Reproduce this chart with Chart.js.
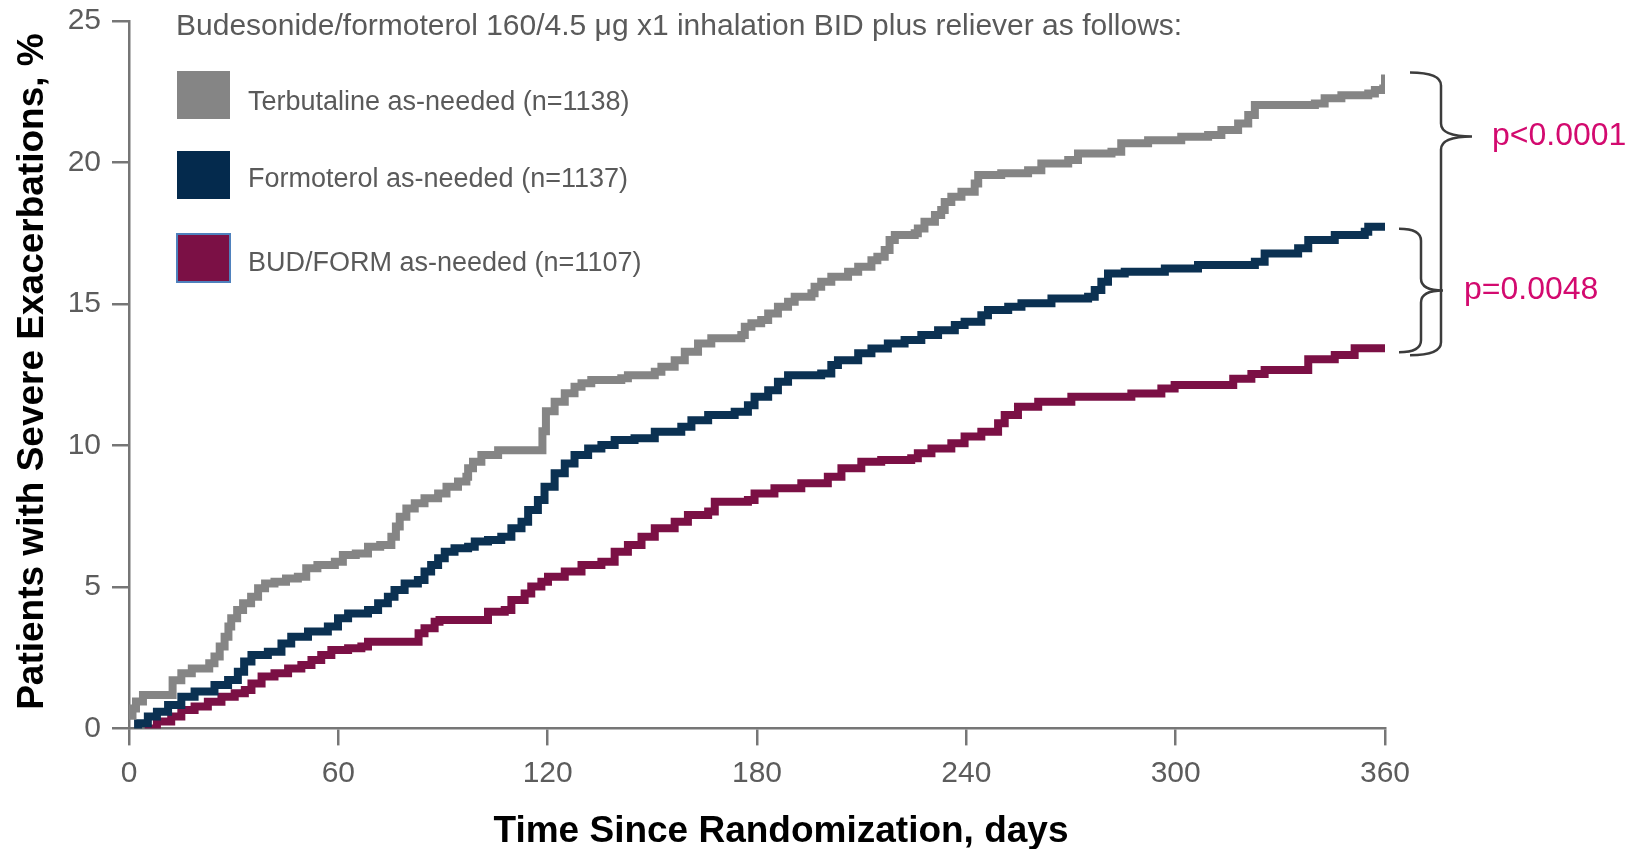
<!DOCTYPE html>
<html>
<head>
<meta charset="utf-8">
<script src="https://cdn.jsdelivr.net/npm/chart.js@4.4.1/dist/chart.umd.min.js"></script>
<style>
  html, body { margin: 0; padding: 0; background: #ffffff; }
  #wrap { position: relative; width: 1627px; height: 849px; }
</style>
</head>
<body>
<div id="wrap"><canvas id="km" width="1627" height="849"></canvas></div>
<script>
// Cumulative incidence of severe exacerbations (%), by day since randomization
const terbutalineDays = [0, 1, 2, 4, 12.5, 15, 18, 23, 24.5, 26, 27.4, 28.5, 29.3, 31, 32.7, 35, 37, 39, 41.7, 45,
  48.4, 50.8, 54, 59, 61.3, 65, 68.5, 72, 75.2, 76.5, 77.6, 79.5, 81.9, 84.7, 88.6, 91, 94.3, 96.7, 97.2, 98.6,
  101, 105.8, 118.5, 119.5, 122, 124.9, 127.7, 129.7, 132.5, 141.1, 143, 150.7, 152.6, 156.4, 159.3, 163.1, 166.9,
  175.5, 176.5, 178.4, 181.2, 183.2, 186, 188.9, 190.8, 195.6, 196.5, 198.4, 201.3, 206.1, 209, 212.8, 214.5,
  216.6, 218, 219.5, 225.2, 226.1, 228, 231, 232.8, 233.8, 235.7, 238.6, 242.4, 243.4, 250, 257.7, 261.5, 269.2,
  272, 281.6, 284.4, 292.1, 301.6, 309.3, 313.1, 317.9, 320.8, 322.7, 339.9, 342.7, 347.5, 355.2, 357.1, 359.5, 360];
const terbutalinePct = [0.45, 0.7, 0.95, 1.18, 1.7, 1.95, 2.12, 2.3, 2.54, 2.89, 3.24, 3.6, 3.89, 4.18, 4.42, 4.65, 4.95, 5.12, 5.18, 5.3,
  5.36, 5.66, 5.77, 5.89, 6.13, 6.18, 6.42, 6.48, 6.77, 7.13, 7.48, 7.77, 7.95, 8.13, 8.3, 8.54, 8.72, 8.89, 9.19, 9.42,
  9.66, 9.83, 10.5, 11.2, 11.54, 11.84, 12.07, 12.19, 12.31, 12.37, 12.48, 12.6, 12.78, 13.01, 13.31, 13.6, 13.78,
  13.9, 14.19, 14.31, 14.43, 14.66, 14.9, 15.07, 15.25, 15.37, 15.6, 15.78, 15.96, 16.13, 16.31, 16.54, 16.66,
  16.9, 17.25, 17.43, 17.49, 17.66, 17.9, 18.14, 18.31, 18.6, 18.78, 18.96, 19.25, 19.55, 19.61, 19.72, 19.96, 20.08,
  20.31, 20.37, 20.67, 20.78, 20.9, 20.96, 21.14, 21.37, 21.67, 22.02, 22.08, 22.26, 22.37, 22.43, 22.55, 22.61, 23.1];

const formoterolDays = [1.5, 2.6, 5.4, 8, 11.2, 15, 18.8, 24.5, 28.4, 31.2, 33, 35.1, 39.8, 43.7, 46.5, 51.3, 57, 59.9,
  62.8, 68.5, 71.4, 74.2, 76.1, 79, 82.8, 84.7, 86.6, 88.6, 90.5, 93.3, 97.2, 99.1, 102.9, 106.7, 109.6, 112.5, 114.4,
  117.2, 119.1, 122, 124.9, 127.7, 131.6, 135.4, 139.2, 144.9, 150.7, 158.3, 161.2, 166, 173.6, 177.4, 179.3, 183.2,
  186, 188.9, 198.4, 201.3, 203.2, 209, 212.8, 217.5, 222.3, 227.1, 231.9, 236.7, 239.5, 244.3, 246.2, 252, 255.8,
  264.4, 274.9, 276.8, 278.7, 280.6, 285.4, 296.9, 306.4, 322.7, 325.5, 335.1, 338, 345.6, 354.2, 355.2, 360];
const formoterolPct = [0, 0.18, 0.42, 0.59, 0.83, 1.12, 1.3, 1.53, 1.71, 2.0, 2.36, 2.59, 2.71, 3.0, 3.24, 3.42, 3.6, 3.89,
  4.06, 4.18, 4.42, 4.65, 4.89, 5.12, 5.24, 5.54, 5.77, 6.01, 6.24, 6.36, 6.42, 6.6, 6.66, 6.77, 7.07, 7.3, 7.72,
  8.07, 8.54, 9.01, 9.36, 9.66, 9.89, 10.01, 10.19, 10.25, 10.48, 10.66, 10.89, 11.07, 11.19, 11.42, 11.72, 11.95,
  12.25, 12.48, 12.54, 12.84, 13.01, 13.25, 13.42, 13.6, 13.72, 13.9, 14.07, 14.25, 14.37, 14.6, 14.78, 14.9, 15.02,
  15.19, 15.25, 15.49, 15.78, 16.07, 16.13, 16.25, 16.37, 16.49, 16.78, 16.96, 17.25, 17.43, 17.55, 17.72, 17.72];

const budFormDays = [4.5, 8, 12.1, 15, 18.8, 22.6, 26.5, 30.3, 33.2, 35.1, 38, 41.7, 45.6, 49.4, 52.3, 55.1, 58, 62.8,
  66.6, 68.5, 83, 84.7, 87.6, 89, 102.9, 107.7, 109.6, 113.4, 115.3, 118.2, 120.1, 124.9, 129.7, 135.4, 139.2, 143,
  146.9, 150.7, 156.4, 160.2, 166, 167.9, 177.4, 179.3, 185, 192.7, 200.3, 204.2, 209.9, 215.6, 224.2, 226.1, 230,
  235.7, 239.5, 244.3, 249.1, 251, 254.8, 260.6, 270.1, 287.3, 295.9, 299.7, 316.5, 321.7, 325.5, 338, 345.6, 351.3, 360];
const budFormPct = [0, 0.24, 0.42, 0.65, 0.77, 0.94, 1.12, 1.24, 1.36, 1.59, 1.83, 1.95, 2.12, 2.24, 2.42, 2.59, 2.77, 2.83,
  2.89, 3.06, 3.36, 3.54, 3.77, 3.83, 4.12, 4.18, 4.54, 4.77, 5.01, 5.18, 5.36, 5.54, 5.77, 5.89, 6.24, 6.48,
  6.77, 7.07, 7.3, 7.54, 7.66, 8.01, 8.07, 8.3, 8.48, 8.66, 8.89, 9.19, 9.42, 9.48, 9.54, 9.72, 9.89,
  10.07, 10.31, 10.48, 10.78, 11.07, 11.36, 11.54, 11.72, 11.83, 12.01, 12.13, 12.35, 12.52, 12.66, 13.04, 13.19, 13.43, 13.43];

const seriesLabels = ['Terbutaline as-needed (n=1138)', 'Formoterol as-needed (n=1137)', 'BUD/FORM as-needed (n=1107)'];
const legendHeader = 'Budesonide/formoterol 160/4.5 \u03BCg x1 inhalation BID plus reliever as follows:';
const xTitle = 'Time Since Randomization, days';
const yTitle = 'Patients with Severe Exacerbations, %';
const xTicks = [0, 60, 120, 180, 240, 300, 360];
const yTicks = [0, 5, 10, 15, 20, 25];
const pValues = ['p<0.0001', 'p=0.0048'];

const FONT = "'Liberation Sans', Arial, Helvetica, sans-serif";
const COLORS = { terb: '#858585', form: '#0b3152', bud: '#7b1045', axis: '#767676', tick: '#5c5c5c', pval: '#d30a6f', brace: '#3c3c3c' };

function toPoints(days, pct) { return days.map((d, i) => ({ x: d, y: pct[i] })); }

function line(label, days, pct, color) {
  return {
    label, data: toPoints(days, pct), borderColor: color, backgroundColor: color,
    borderWidth: 8, stepped: 'before', pointRadius: 0, pointHoverRadius: 0, fill: false,
    borderJoinStyle: 'miter', borderCapStyle: 'butt', tension: 0
  };
}

// Axis titles, placed relative to the plot area
const axisTitles = {
  id: 'axisTitles',
  afterDraw(chart) {
    const ctx = chart.ctx;
    const area = chart.chartArea;
    ctx.save();
    ctx.fillStyle = '#000000';
    ctx.font = `bold 37px ${FONT}`;
    ctx.textAlign = 'center';
    ctx.textBaseline = 'middle';
    ctx.fillText(xTitle, (area.left + area.right) / 2 + 24, 832);
    ctx.translate(33, (area.top + area.bottom) / 2 - 3);
    ctx.rotate(-Math.PI / 2);
    ctx.fillText(yTitle, 0, 0);
    ctx.restore();
  }
};

// Legend block with header and square swatches
const legendBlock = {
  id: 'legendBlock',
  afterDraw(chart) {
    const ctx = chart.ctx;
    ctx.save();
    ctx.fillStyle = '#5a5a5a';
    ctx.textBaseline = 'middle';
    ctx.textAlign = 'left';
    ctx.font = `30px ${FONT}`;
    ctx.fillText(legendHeader, 176, 27);
    const swatch = [
      { color: COLORS.terb, top: 71, text: seriesLabels[0], ty: 103, edge: null },
      { color: '#042a4d', top: 151, text: seriesLabels[1], ty: 180, edge: null },
      { color: COLORS.bud, top: 234, text: seriesLabels[2], ty: 264, edge: '#4f81bd' }
    ];
    ctx.font = `27px ${FONT}`;
    swatch.forEach(s => {
      ctx.fillStyle = s.color;
      ctx.fillRect(177, s.top, 53, 48);
      if (s.edge) {
        ctx.strokeStyle = s.edge;
        ctx.lineWidth = 2;
        ctx.strokeRect(177, s.top, 53, 48);
      }
      ctx.fillStyle = '#5a5a5a';
      ctx.fillText(s.text, 248, s.ty);
    });
    ctx.restore();
  }
};

// Curly braces comparing end-of-study rates, with p-values
function brace(ctx, x0, xv, xt, yTop, yTip, yBot, r) {
  ctx.beginPath();
  ctx.moveTo(x0, yTop);
  ctx.quadraticCurveTo(xv, yTop, xv, yTop + r);
  ctx.lineTo(xv, yTip - r);
  ctx.quadraticCurveTo(xv, yTip, xt, yTip);
  ctx.moveTo(xt, yTip);
  ctx.quadraticCurveTo(xv, yTip, xv, yTip + r);
  ctx.lineTo(xv, yBot - r);
  ctx.quadraticCurveTo(xv, yBot, x0, yBot);
  ctx.stroke();
}

const braces = {
  id: 'braces',
  afterDraw(chart) {
    const ctx = chart.ctx;
    const y = chart.scales.y;
    const terbEnd = y.getPixelForValue(terbutalinePct[terbutalinePct.length - 1]);
    const formEnd = y.getPixelForValue(formoterolPct[formoterolPct.length - 1]);
    const budEnd = y.getPixelForValue(budFormPct[budFormPct.length - 1]);
    ctx.save();
    ctx.strokeStyle = COLORS.brace;
    ctx.lineWidth = 2.5;
    const bigTop = terbEnd - 2, bigBot = budEnd + 7, bigTip = bigTop + 64;
    brace(ctx, 1410, 1441, 1472, bigTop, bigTip, bigBot, 13);
    const smTop = formEnd + 2, smBot = budEnd + 4, smTip = (smTop + smBot) / 2;
    brace(ctx, 1399, 1421, 1443, smTop, smTip, smBot, 12);
    ctx.fillStyle = COLORS.pval;
    ctx.font = `32px ${FONT}`;
    ctx.textAlign = 'left';
    ctx.textBaseline = 'middle';
    ctx.fillText(pValues[0], 1492, bigTip);
    ctx.fillText(pValues[1], 1464, smTip);
    ctx.restore();
  }
};

new Chart(document.getElementById('km'), {
  type: 'line',
  data: {
    datasets: [
      line(seriesLabels[0], terbutalineDays, terbutalinePct, COLORS.terb),
      line(seriesLabels[1], formoterolDays, formoterolPct, COLORS.form),
      line(seriesLabels[2], budFormDays, budFormPct, COLORS.bud)
    ]
  },
  options: {
    responsive: false,
    animation: false,
    devicePixelRatio: 1,
    layout: { padding: { left: 0, top: 20.75, right: 242, bottom: 0 } },
    plugins: { legend: { display: false }, tooltip: { enabled: false } },
    events: [],
    scales: {
      x: {
        type: 'linear', min: 0, max: 360,
        afterBuildTicks: s => { s.ticks = xTicks.map(v => ({ value: v })); },
        ticks: { color: COLORS.tick, font: { family: FONT, size: 30 }, padding: 10, maxRotation: 0, autoSkip: false },
        grid: { drawOnChartArea: false, drawTicks: true, tickLength: 17, color: COLORS.axis, lineWidth: 2.5 },
        border: { color: COLORS.axis, width: 2.5 },
        afterFit: s => { s.height = 120.6; s.paddingLeft = 0; s.paddingRight = 0; }
      },
      y: {
        type: 'linear', min: 0, max: 25,
        afterBuildTicks: s => { s.ticks = yTicks.map(v => ({ value: v })); },
        ticks: { color: COLORS.tick, font: { family: FONT, size: 30 }, padding: 11, autoSkip: false },
        grid: { drawOnChartArea: false, drawTicks: true, tickLength: 17, color: COLORS.axis, lineWidth: 2.5 },
        border: { color: COLORS.axis, width: 2.5 },
        afterFit: s => { s.width = 129; s.paddingTop = 0; s.paddingBottom = 0; }
      }
    }
  },
  plugins: [axisTitles, legendBlock, braces]
});
</script>
</body>
</html>
